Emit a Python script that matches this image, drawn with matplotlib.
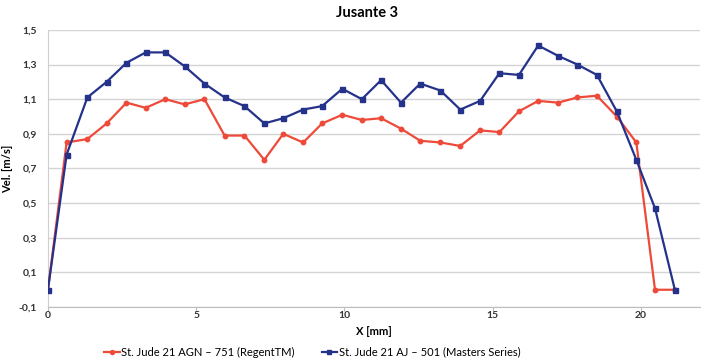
import matplotlib.pyplot as plt
from matplotlib.ticker import FuncFormatter, MultipleLocator

plt.rcParams['font.family'] = ['Lato', 'DejaVu Sans']

# posicao ao longo do diametro [mm]
x_mm = [0.0, 0.63, 1.33, 1.98, 2.65, 3.30, 3.96, 4.61, 5.28, 5.96, 6.63, 7.30,
        7.94, 8.61, 9.25, 9.93, 10.59, 11.24, 11.91, 12.56, 13.24, 13.91, 14.58,
        15.23, 15.89, 16.54, 17.21, 17.86, 18.52, 19.19, 19.85, 20.48, 21.15]

vel_regent = [0.0, 0.85, 0.87, 0.96, 1.08, 1.05, 1.10, 1.07, 1.10, 0.89, 0.89, 0.75,
              0.90, 0.85, 0.96, 1.01, 0.98, 0.99, 0.93, 0.86, 0.85, 0.83, 0.92,
              0.91, 1.03, 1.09, 1.08, 1.11, 1.12, 1.00, 0.85, 0.0, 0.0]

vel_masters = [0.0, 0.78, 1.11, 1.20, 1.31, 1.37, 1.37, 1.29, 1.19, 1.11, 1.06, 0.96,
               0.99, 1.04, 1.06, 1.16, 1.10, 1.21, 1.08, 1.19, 1.15, 1.04, 1.09,
               1.25, 1.24, 1.41, 1.35, 1.30, 1.24, 1.03, 0.75, 0.47, 0.0]

labels = ['St. Jude 21 AGN – 751 (RegentTM)', 'St. Jude 21 AJ – 501 (Masters Series)']

red = '#EE4A3A'
blue = '#24328A'

fig = plt.figure(figsize=(7.05, 3.6), dpi=100)
ax = fig.add_axes([0.068, 0.147, 0.925, 0.770])

ax.plot(x_mm, vel_regent, color=red, lw=1.6, marker='o', markersize=3.2,
        label=labels[0], zorder=3)
ax.plot(x_mm, vel_masters, color=blue, lw=1.6, marker='s', markersize=3.6,
        label=labels[1], zorder=4)

ax.set_xlim(0, 22)
ax.set_ylim(-0.1, 1.5)
ax.xaxis.set_major_locator(MultipleLocator(5))
ax.set_yticks([-0.1, 0.1, 0.3, 0.5, 0.7, 0.9, 1.1, 1.3, 1.5])
comma = FuncFormatter(lambda v, p: ('%g' % round(v, 2)).replace('.', ','))
ax.xaxis.set_major_formatter(comma)
ax.yaxis.set_major_formatter(comma)

ax.grid(axis='y', color='#d4d4d4', lw=1.0)
ax.set_axisbelow(True)
for s in ['top', 'right']:
    ax.spines[s].set_visible(False)
ax.spines['left'].set_color('#cfcfcf')
ax.spines['bottom'].set_color('#bdbdbd')
ax.tick_params(axis='x', length=3, color='#bdbdbd', labelsize=7.5, pad=0,
               labelcolor='#333333')
ax.tick_params(axis='y', length=0, labelsize=7.5, pad=8, labelcolor='#333333')
for t in ax.get_xticklabels() + ax.get_yticklabels():
    t.set_fontweight('bold')

ax.set_title('Jusante 3', fontweight='bold', fontsize=10.5, pad=9, x=0.49)
ax.set_xlabel('X [mm]', fontweight='bold', fontsize=8, labelpad=4)
ax.set_ylabel('Vel. [m/s]', fontweight='bold', fontsize=8, labelpad=4)

fig.legend(loc='center', bbox_to_anchor=(0.443, 0.022), ncol=2, frameon=False,
           fontsize=8, handlelength=1.4, handletextpad=0.15, columnspacing=2.4,
           markerscale=0.9, borderpad=0.1)

fig.savefig('out.png', dpi=100)
